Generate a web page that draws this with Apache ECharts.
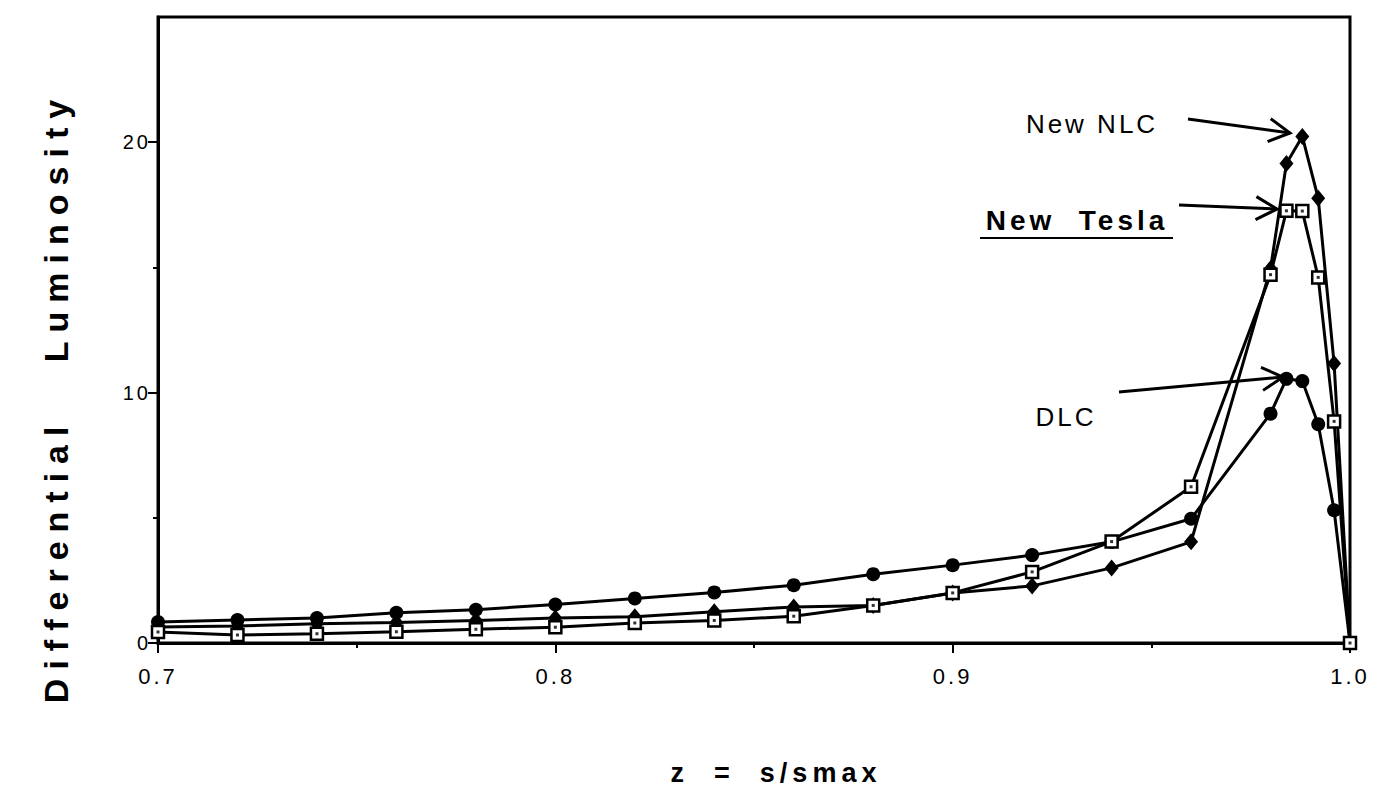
<!DOCTYPE html>
<html>
<head>
<meta charset="utf-8">
<title>Differential Luminosity</title>
<script src="https://cdn.jsdelivr.net/npm/echarts@6/dist/echarts.min.js"></script>
<style>
  html, body { margin: 0; padding: 0; background: #fff; }
  #main { width: 1396px; height: 804px; }
  /* the old plot has wide letter spacing everywhere */
  #main text { letter-spacing: 3px; }
  /* y title is spaced out even more */
  #main text[style*="34px"] { letter-spacing: 9px; }
  #main text[style*="28px"] { letter-spacing: 4px; }
  #main text[style*="27px"] { letter-spacing: 5px; }
</style>
</head>
<body>
<div id="main"></div>
<script>
// z = s/smax
var zValues = [0.70, 0.72, 0.74, 0.76, 0.78, 0.80, 0.82, 0.84, 0.86, 0.88, 0.90, 0.92, 0.94, 0.96,
               0.98, 0.984, 0.988, 0.992, 0.996, 1.0];
var dlc      = [0.84, 0.92, 1.00, 1.21, 1.33, 1.54, 1.78, 2.02, 2.31, 2.75, 3.11, 3.51, 4.04, 4.96,
               9.16, 10.55, 10.46, 8.74, 5.30, 0];
var newNlc   = [0.64, 0.68, 0.77, 0.82, 0.90, 1.00, 1.05, 1.25, 1.44, 1.50, 2.00, 2.28, 3.00, 4.04,
               14.95, 19.15, 20.23, 17.76, 11.16, 0];
var newTesla = [0.44, 0.32, 0.37, 0.45, 0.55, 0.63, 0.80, 0.90, 1.07, 1.50, 2.00, 2.84, 4.05, 6.24,
               14.71, 17.26, 17.25, 14.60, 8.85, 0];
var xTickLabels = ['0.7', '0.8', '0.9', '1.0'];
var yTickLabels = [0, 10, 20];

var font = 'Liberation Sans, Arial, Helvetica, sans-serif';

function pairs(ys) {
  return zValues.map(function (z, i) { return [z, ys[i]]; });
}

// arrow with an open V head, pixel coords
function arrow(x1, y1, x2, y2) {
  var a = Math.atan2(y2 - y1, x2 - x1);
  var len = 24, spread = 0.5;
  var h1 = [x2 - len * Math.cos(a - spread), y2 - len * Math.sin(a - spread)];
  var h2 = [x2 - len * Math.cos(a + spread), y2 - len * Math.sin(a + spread)];
  return [
    { type: 'line', shape: { x1: x1, y1: y1, x2: x2, y2: y2 }, style: { stroke: '#000', lineWidth: 3 } },
    { type: 'polyline', shape: { points: [h1, [x2, y2], h2] }, style: { stroke: '#000', lineWidth: 3, fill: null } }
  ];
}

var chartDom = document.getElementById('main');
var myChart = echarts.init(chartDom, null, { renderer: 'svg' });

var lineStyle = { color: '#000', width: 3 };

var graphics = [
  { type: 'text', x: 56, y: 397, rotation: Math.PI / 2,
    style: { text: 'Differential   Luminosity', font: 'bold 34px ' + font, fill: '#000',
             textAlign: 'center', textVerticalAlign: 'middle' } },
  { type: 'text', x: 1092, y: 124,
    style: { text: 'New NLC', font: '26px ' + font, fill: '#000', textAlign: 'center', textVerticalAlign: 'middle' } },
  { type: 'text', x: 1077, y: 220,
    style: { text: 'New  Tesla', font: 'bold 28px ' + font, fill: '#000', textAlign: 'center', textVerticalAlign: 'middle' } },
  { type: 'line', shape: { x1: 980, y1: 238, x2: 1173, y2: 238 }, style: { stroke: '#000', lineWidth: 2 } },
  { type: 'text', x: 1066, y: 417,
    style: { text: 'DLC', font: '26px ' + font, fill: '#000', textAlign: 'center', textVerticalAlign: 'middle' } }
].concat(arrow(1188, 119, 1290, 133), arrow(1179, 205, 1277, 209), arrow(1119, 392, 1283, 377));

var option = {
  animation: false,
  backgroundColor: '#fff',
  grid: { left: 158, right: 46, top: 17, bottom: 161, show: true, borderColor: '#000', borderWidth: 3 },
  xAxis: {
    type: 'value', min: 0.7, max: 1.0, interval: 0.1,
    axisLine: { lineStyle: { color: '#000', width: 3 } },
    axisTick: { length: 10, lineStyle: { color: '#000', width: 2 } },
    minorTick: { show: true, splitNumber: 2, length: 5, lineStyle: { color: '#000', width: 2 } },
    splitLine: { show: false },
    axisLabel: {
      color: '#000', fontSize: 22, fontFamily: font, margin: 22,
      formatter: function (v) {
        var s = v.toFixed(1);
        return xTickLabels.indexOf(s) >= 0 ? s : '';
      }
    },
    name: 'z  =  s/smax', nameLocation: 'middle', nameGap: 116,
    nameTextStyle: { color: '#000', fontSize: 27, fontWeight: 'bold', fontFamily: font, padding: [0, 0, 0, 44] }
  },
  yAxis: [
    {
      type: 'value', min: 0, max: 25, interval: 5,
      axisLine: { show: true, lineStyle: { color: '#000', width: 3 } },
      axisTick: { show: true, length: 10, customValues: yTickLabels, lineStyle: { color: '#000', width: 2 } },
      splitLine: { show: false },
      axisLabel: { color: '#000', fontSize: 20, fontFamily: font, margin: 7, customValues: yTickLabels }
    },
    {
      type: 'value', min: 0, max: 25, interval: 5, position: 'left',
      axisLine: { show: false },
      axisTick: { show: true, length: 5, customValues: [5, 15], lineStyle: { color: '#000', width: 2 } },
      axisLabel: { show: false },
      splitLine: { show: false }
    }
  ],
  series: [
    { name: 'DLC', type: 'line', data: pairs(dlc), symbol: 'circle', symbolSize: 14,
      lineStyle: lineStyle, itemStyle: { color: '#000' } },
    { name: 'New NLC', type: 'line', data: pairs(newNlc), symbol: 'diamond', symbolSize: [14, 17],
      lineStyle: lineStyle, itemStyle: { color: '#000' } },
    { name: 'New Tesla', type: 'line', data: pairs(newTesla), symbol: 'rect', symbolSize: 12,
      lineStyle: lineStyle, itemStyle: { color: '#fff', borderColor: '#000', borderWidth: 2.5 } },
    { name: 'New Tesla dot', type: 'scatter', data: pairs(newTesla), symbol: 'rect', symbolSize: 3,
      itemStyle: { color: '#000' }, silent: true, z: 5 }
  ],
  graphic: graphics
};

option && myChart.setOption(option);
</script>
</body>
</html>
